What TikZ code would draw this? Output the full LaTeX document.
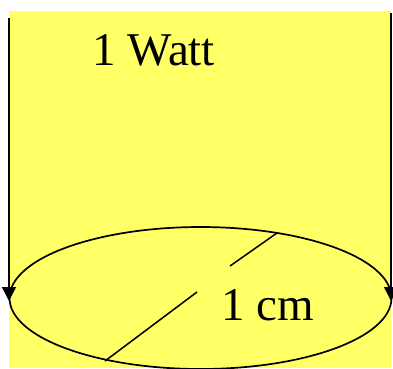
\documentclass[tikz,border=0pt]{standalone}
\usepackage{fontspec}
\setmainfont{Liberation Serif}
\usetikzlibrary{arrows.meta}
\definecolor{bgyellow}{RGB}{255,255,102}
\begin{document}
\begin{tikzpicture}[x=1pt,y=-1pt,
  wire/.style={line width=1.5pt,draw=black},
  flow/.style={wire,-{Triangle[length=14pt,width=14pt]}},
  lab/.style={inner sep=0pt,font=\fontsize{47}{50}\selectfont}]
\useasboundingbox (0,0) rectangle (393,368);
\fill[bgyellow] (9,11) rectangle (391,368);
\coordinate (lt) at (9,18);
\coordinate (lb) at (9,301);
\coordinate (rt) at (391,13);
\coordinate (rb) at (391,301);
\draw[flow] (lt) -- (lb);
\draw[flow] (rt) -- (rb);
\draw[wire,line width=1.7pt] (200.5,298) ellipse [x radius=191, y radius=71];
\coordinate (d1) at (105,361);
\coordinate (d2) at (197,292);
\coordinate (d3) at (230,266);
\coordinate (d4) at (277,233);
\draw[wire] (d1) -- (d2);
\draw[wire] (d3) -- (d4);
\node[lab,anchor=base west] (watt) at (92,65) {1 Watt};
\node[lab,anchor=base west] (cm) at (221,320) {1 cm};
\end{tikzpicture}
\end{document}
